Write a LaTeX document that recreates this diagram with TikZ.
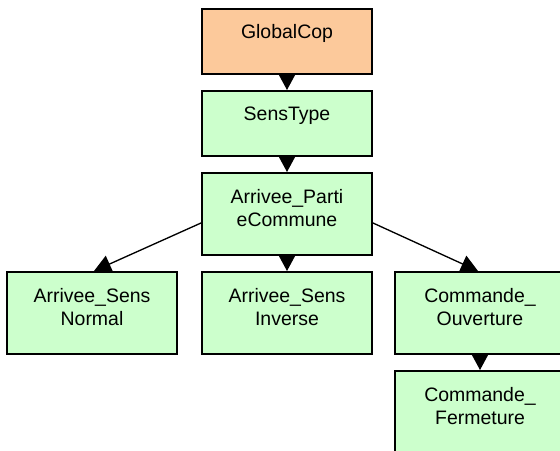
\documentclass[tikz,border=0pt]{standalone}
\usepackage{fontspec}
\setmainfont{Liberation Sans}
\usetikzlibrary{arrows.meta}
\definecolor{boxgreen}{RGB}{204,255,204}
\definecolor{boxorange}{RGB}{252,201,155}
\begin{document}
\begin{tikzpicture}[x=0.75pt,y=-0.75pt,
  box/.style={draw=black, line width=1.5pt, minimum width=127.5pt, inner sep=0pt, fill=boxgreen},
  one/.style={minimum height=48.75pt},
  two/.style={minimum height=61.5pt},
  lbl/.style={anchor=north, yshift=-12.75pt, inner sep=0pt, align=center, font=\fontsize{14.6}{17.3}\selectfont},
  edge/.style={line width=1pt, -{Triangle[length=12.75pt,width=13.5pt]}}
]
\useasboundingbox (0,0) rectangle (560,450);
\clip (0,0) rectangle (560,450);
\fill[white] (0,0) rectangle (560,450);

\node[box, one, fill=boxorange] (gc) at (287,41) {};
\node[box, one] (st) at (287,123.5) {};
\node[box, two] (pc) at (287,214) {};
\node[box, two] (sn) at (92,313) {};
\node[box, two] (si) at (287,313) {};
\node[box, two] (co) at (480,313) {};
\node[box, two] (cf) at (480,412) {};

\node[lbl] (gct) at (gc.north) {GlobalCop};
\node[lbl] (stt) at (st.north) {SensType};
\node[lbl] (pct) at (pc.north) {Arrivee\_Parti\\eCommune};
\node[lbl] (snt) at (sn.north) {Arrivee\_Sens\\Normal};
\node[lbl] (sit) at (si.north) {Arrivee\_Sens\\Inverse};
\node[lbl] (cot) at (co.north) {Commande\_\\Ouverture};
\node[lbl] (cft) at (cf.north) {Commande\_\\Fermeture};

\draw[edge] (gc) -- (st);
\draw[edge] (st) -- (pc);
\draw[edge] (pc) -- (si);
\draw[edge] (co) -- (cf);
\draw[edge] ([yshift=-6.75pt]pc.west) -- ([xshift=1.5pt]sn.north);
\draw[edge] ([yshift=-6.75pt]pc.east) -- ([xshift=-1.5pt]co.north);
\end{tikzpicture}
\end{document}
